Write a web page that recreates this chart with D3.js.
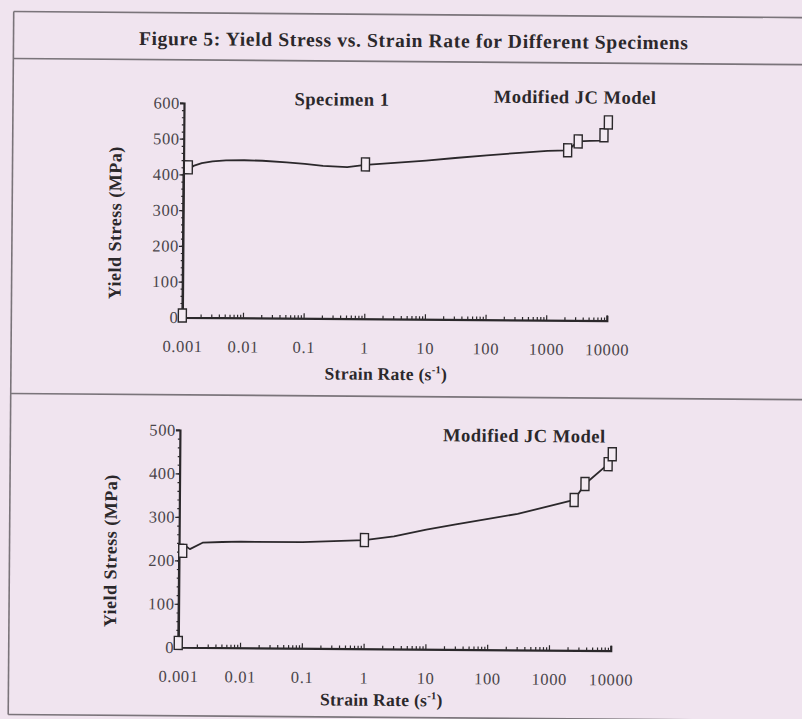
<!DOCTYPE html>
<html>
<head>
<meta charset="utf-8">
<script src="https://cdn.jsdelivr.net/npm/d3@7"></script>
<style>
  html, body { margin: 0; padding: 0; background: #f0e4ef; }
  svg { display: block; }
</style>
</head>
<body>
<script>
// ---- data ---------------------------------------------------------------
const rateTicks = [0.001, 0.01, 0.1, 1, 10, 100, 1000, 10000];
const rateTickLabels = ["0.001", "0.01", "0.1", "1", "10", "100", "1000", "10000"];
const stressTicks1 = [0, 100, 200, 300, 400, 500, 600];
const stressTicks2 = [0, 100, 200, 300, 400, 500];

// Specimen 1: Modified JC model curve
const curveRate1 = [0.001, 0.001, 0.0011, 0.0015, 0.002, 0.003, 0.005, 0.01, 0.02, 0.05, 0.1, 0.2, 0.5, 1, 3, 10, 30, 100, 300, 1000, 2150, 3200, 5000, 7500, 8500, 10000];
const curveStress1 = [5, 400, 408, 425, 432, 437, 440, 441, 440, 436, 432, 427, 424, 431, 437, 444, 452, 460, 467, 474, 476, 501, 503, 504, 519, 555];
// Specimen 1: measured points
const pointRate1 = [0.001, 0.0012, 1, 2150, 3200, 8500, 10000];
const pointStress1 = [5, 420, 432, 476, 501, 519, 555];

// Specimen 2: Modified JC model curve
const curveRate2 = [0.001, 0.001, 0.0012, 0.0015, 0.0024, 0.005, 0.01, 0.1, 1, 3, 10, 30, 100, 300, 1000, 2450, 3650, 8600, 10000];
const curveStress2 = [5, 236, 236, 226, 241, 243, 244, 244, 250, 259, 275, 288, 301, 313, 332, 346, 383, 429, 452];
// Specimen 2: measured points
const pointRate2 = [0.001, 0.00115, 1, 2450, 3650, 8600, 10000];
const pointStress2 = [10, 222, 250, 346, 383, 429, 452];

// ---- page -----------------------------------------------------------------
const W = 802, H = 719;
const ink = "#2b282b";
const serif = "'Liberation Serif', 'Times New Roman', serif";

const svg = d3.select("body").append("svg")
  .attr("width", W).attr("height", H)
  .attr("viewBox", `0 0 ${W} ${H}`);

svg.append("rect").attr("width", W).attr("height", H).attr("fill", "#f0e4ef");

// the printed page sits slightly rotated
const page = svg.append("g").attr("transform", "rotate(0.45, 401, 360)");

// frame and separators
const frame = page.append("g").attr("stroke", "#7a747a").attr("stroke-width", 1.6).attr("fill", "none");
frame.append("line").attr("x1", 11).attr("x2", 830).attr("y1", 14.5).attr("y2", 14.5);
frame.append("line").attr("x1", 11).attr("x2", 830).attr("y1", 61.5).attr("y2", 61.5);
frame.append("line").attr("x1", 11).attr("x2", 830).attr("y1", 396.5).attr("y2", 396.5);
frame.append("line").attr("x1", 11).attr("x2", 830).attr("y1", 717.5).attr("y2", 717.5);
frame.append("line").attr("x1", 11).attr("x2", 11).attr("y1", 14.5).attr("y2", 717.5);

page.append("text")
  .attr("x", 411).attr("y", 47)
  .attr("text-anchor", "middle")
  .attr("font-family", serif).attr("font-weight", "bold").attr("font-size", 19.5)
  .attr("textLength", 549).attr("lengthAdjust", "spacing")
  .attr("fill", ink)
  .text("Figure 5: Yield Stress vs. Strain Rate for Different Specimens");

// ---- one panel ------------------------------------------------------------
function panel(cfg) {
  const g = page.append("g");
  const x = d3.scaleLog().domain([0.001, 10000]).range([cfg.x0, cfg.x1]);
  const y = d3.scaleLinear().domain([0, cfg.yMax]).range([cfg.y0, cfg.y1]);

  // x axis with log minor ticks
  const minor = [];
  rateTicks.slice(0, -1).forEach(d => { for (let k = 2; k <= 9; k++) minor.push(d * k); });
  const xAxis = g.append("g").attr("transform", `translate(0,${cfg.y0})`)
    .call(d3.axisTop(x).tickValues(minor).tickSize(3).tickFormat(""));
  xAxis.select(".domain").remove();
  g.append("g").attr("transform", `translate(0,${cfg.y0})`)
    .call(d3.axisTop(x).tickValues(rateTicks).tickSize(5).tickFormat(""))
    .call(a => a.select(".domain").attr("stroke-width", 2.2));

  g.append("g").attr("transform", `translate(0,${cfg.y0})`)
    .call(d3.axisBottom(x).tickValues(rateTicks).tickSize(0)
      .tickFormat((d, i) => rateTickLabels[i]).tickPadding(cfg.xLabelPad))
    .call(a => a.select(".domain").remove());

  // y axis with minor ticks every 20
  const yMinor = d3.range(0, cfg.yMax + 1, 20);
  g.append("g").attr("transform", `translate(${cfg.x0},0)`)
    .call(d3.axisLeft(y).tickValues(yMinor).tickSize(2).tickFormat(""))
    .call(a => a.select(".domain").remove());
  g.append("g").attr("transform", `translate(${cfg.x0},0)`)
    .call(d3.axisLeft(y).tickValues(cfg.yTicks).tickSize(4).tickPadding(0).tickFormat(d3.format("d")))
    .call(a => a.select(".domain").attr("stroke-width", 2.2));

  g.selectAll(".tick line").attr("stroke", ink).attr("stroke-width", 1.2);
  g.selectAll(".domain").attr("stroke", ink);
  g.selectAll(".tick text")
    .attr("font-family", serif).attr("font-size", 16.5)
    .attr("letter-spacing", 0.6)
    .attr("fill", "#4a454a");

  // model curve
  const line = d3.line().x(d => x(d[0])).y(d => y(d[1]));
  g.append("path")
    .datum(cfg.rates.map((r, i) => [r, cfg.stress[i]]))
    .attr("d", line)
    .attr("fill", "none").attr("stroke", ink).attr("stroke-width", 1.8)
    .attr("stroke-linejoin", "round");

  // measured points as open tall boxes
  g.selectAll("rect.pt")
    .data(cfg.pRates.map((r, i) => [r, cfg.pStress[i]]))
    .join("rect").attr("class", "pt")
    .attr("x", d => x(d[0]) - 4).attr("y", d => y(d[1]) - 6.5)
    .attr("width", 8).attr("height", 13)
    .attr("fill", "#f3eaf2").attr("stroke", ink).attr("stroke-width", 1.4);

  // labels
  const bold = sel => sel.attr("font-family", serif).attr("font-weight", "bold").attr("fill", ink);
  g.append("text").call(bold)
    .attr("font-size", 18).attr("letter-spacing", 0.5)
    .attr("transform", `translate(${cfg.yTitleX},${cfg.yTitleY}) rotate(-90)`)
    .attr("text-anchor", "middle")
    .text("Yield Stress (MPa)");

  const xt = g.append("text").call(bold)
    .attr("font-size", 17.5).attr("letter-spacing", 0.3)
    .attr("x", cfg.xTitleX).attr("y", cfg.xTitleY)
    .attr("text-anchor", "middle");
  xt.append("tspan").text("Strain Rate (s");
  xt.append("tspan").attr("font-size", 10.5).attr("dy", -7).text("-1");
  xt.append("tspan").attr("dy", 7).text(")");

  cfg.notes.forEach(n => {
    g.append("text").call(bold)
      .attr("font-size", 18.5).attr("letter-spacing", 0.5)
      .attr("x", n.x).attr("y", n.y)
      .attr("text-anchor", "middle")
      .text(n.text);
  });
}

panel({
  x0: 182, x1: 606.5, y0: 319, y1: 104.7, yMax: 600, yTicks: stressTicks1,
  rates: curveRate1, stress: curveStress1, pRates: pointRate1, pStress: pointStress1,
  xLabelPad: 23, yTitleX: 120, yTitleY: 225, xTitleX: 386, xTitleY: 380,
  notes: [{ text: "Specimen 1", x: 340, y: 106 }, { text: "Modified JC Model", x: 573, y: 102 }]
});

panel({
  x0: 180.5, x1: 613, y0: 649, y1: 431.7, yMax: 500, yTicks: stressTicks2,
  rates: curveRate2, stress: curveStress2, pRates: pointRate2, pStress: pointStress2,
  xLabelPad: 23, yTitleX: 118, yTitleY: 553, xTitleX: 384, xTitleY: 706,
  notes: [{ text: "Modified JC Model", x: 525, y: 441 }]
});
</script>
</body>
</html>
